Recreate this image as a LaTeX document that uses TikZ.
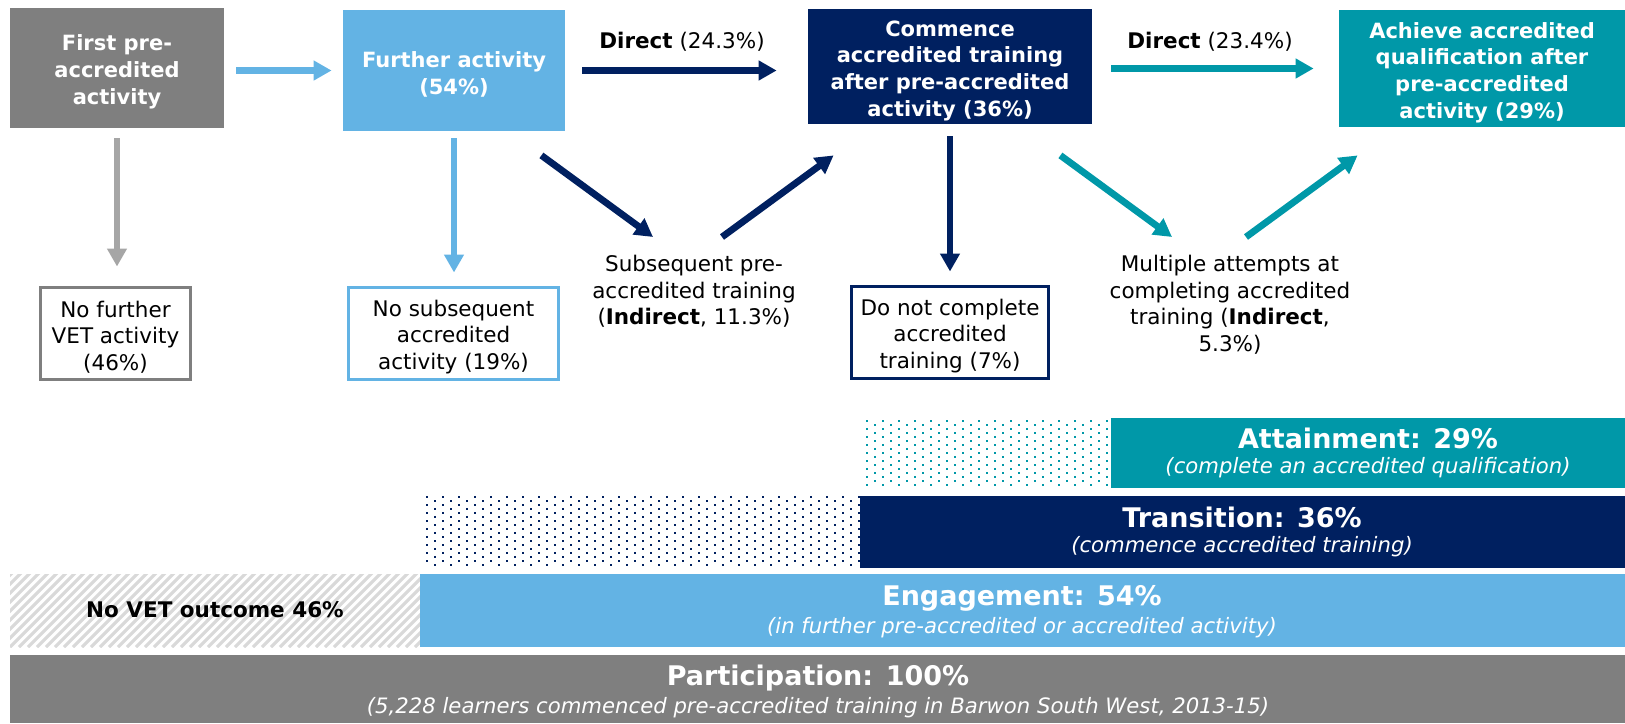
\documentclass[tikz,border=0pt]{standalone}
\usepackage{fontspec}
\setmainfont{DejaVu Sans}
\usetikzlibrary{arrows.meta}
\definecolor{cgray}{RGB}{127,127,127}
\definecolor{cagray}{RGB}{166,166,166}
\definecolor{cblue}{RGB}{99,179,228}
\definecolor{cnavy}{RGB}{0,32,96}
\definecolor{cteal}{RGB}{0,152,168}
\definecolor{chatch}{RGB}{217,217,217}
\newcommand{\mystrut}{\rule{0pt}{12pt}}
\begin{document}
\begin{tikzpicture}[x=0.5pt,y=-0.5pt,
 topbox/.style={fill=#1, text=white, font=\bfseries\fontsize{10.5}{13.4}\selectfont, align=center, inner sep=0pt},
 lowbox/.style={draw=#1, line width=1.5pt, fill=white, font=\fontsize{10.75}{13.25}\selectfont, align=center, inner sep=0pt},
 plain/.style={font=\fontsize{10.75}{13.25}\selectfont, align=center, inner sep=0pt},
 flow/.style={line width=3.4pt, draw=#1, -{Triangle[length=9pt,width=9.5pt]}},
 bar/.style={fill=#1, inner sep=0pt, draw=none},
 bartitle/.style={text=white, font=\bfseries\fontsize{13.5}{16}\selectfont, inner sep=0pt},
 barsub/.style={text=white, font=\itshape\fontsize{10.6}{12}\selectfont, inner sep=0pt},
]
\useasboundingbox (0,0) rectangle (1625,723);

% top boxes
\node[topbox=cgray, minimum width=107pt, minimum height=60pt] (g) at (117,68) {\mystrut First pre-\\accredited\\activity};
\node[topbox=cblue, minimum width=111pt, minimum height=60.5pt] (f) at (454,70.5) {\mystrut Further activity\\(54\%)};
\node[topbox=cnavy, minimum width=142pt, minimum height=57.5pt] (c) at (950,66.5) {\mystrut Commence\\accredited training\\after pre-accredited\\activity (36\%)};
\node[topbox=cteal, minimum width=143pt, minimum height=58.5pt] (a) at (1482,68.5) {\mystrut Achieve accredited\\qualification after\\pre-accredited\\activity (29\%)};

% lower boxes
\node[lowbox=cgray, minimum width=75pt, minimum height=46pt] (nf) at (115.5,333) {\mystrut No further\\VET activity\\(46\%)};
\node[lowbox=cblue, minimum width=105pt, minimum height=46pt] (ns) at (453.5,333) {\mystrut No subsequent\\accredited\\activity (19\%)};
\node[lowbox=cnavy, minimum width=98.5pt, minimum height=46pt] (dn) at (950,332) {\mystrut Do not complete\\accredited\\training (7\%)};

% free texts
\node[plain, anchor=north] (sub) at (694,255) {Subsequent pre-\\accredited training\\(\textbf{Indirect}, 11.3\%)};
\node[plain, anchor=north] (mul) at (1230,255) {Multiple attempts at\\completing accredited\\training (\textbf{Indirect},\\5.3\%)};
\node[plain] (d1) at (682,42) {\textbf{Direct} (24.3\%)};
\node[plain] (d2) at (1210,42) {\textbf{Direct} (23.4\%)};

% arrows
\draw[flow=cblue, shorten <=6pt, shorten >=5.5pt] (g.east |- f.west) -- (f.west);
\draw[flow=cnavy, shorten <=8.5pt, shorten >=15.5pt] (f.east) -- (f.east -| c.west);
\draw[flow=cteal, shorten <=9.5pt, shorten >=12.5pt] (c.east |- a.west) -- (a.west);
\draw[flow=cagray, shorten <=5pt, shorten >=9.5pt] (g.south) -- (g.south |- nf.north);
\draw[flow=cblue, shorten <=3.5pt, shorten >=6.5pt] (f.south) -- (f.south |- ns.north);
\draw[flow=cnavy, shorten <=6pt, shorten >=6.5pt] (c.south) -- (dn.north);
\draw[flow=cnavy] ([shift={(-24,24)}]f.south east) -- ([shift={(-41,-18)}]sub.north);
\draw[flow=cnavy] ([shift={(28,-18)}]sub.north) -- ([shift={(26,31)}]c.south west);
\draw[flow=cteal] ([shift={(-32,31)}]c.south east) -- ([shift={(-58,-18)}]mul.north);
\draw[flow=cteal] ([shift={(16,-18)}]mul.north) -- ([shift={(19,28)}]a.south west);

% dotted areas
\foreach \yy in {420,428,...,484} {\foreach \xx in {866,882,...,1106} {\fill[cteal] (\xx,\yy) rectangle ++(2,2);}}
\foreach \yy in {424,432,...,484} {\foreach \xx in {874,890,...,1106} {\fill[cteal] (\xx,\yy) rectangle ++(2,2);}}
\foreach \yy in {496,504,...,564} {\foreach \xx in {426,442,...,858} {\fill[cnavy] (\xx,\yy) rectangle ++(2,2);}}
\foreach \yy in {500,508,...,564} {\foreach \xx in {434,450,...,858} {\fill[cnavy] (\xx,\yy) rectangle ++(2,2);}}

% hatched area
\begin{scope}
\clip (10,574) rectangle (420,647);
\foreach \xx in {-80,-71,...,420} {\draw[chatch, line width=1.6pt] (\xx,647) -- ++(80,-80);}
\end{scope}

% bars
\node[bar=cteal, minimum width=257pt, minimum height=35pt] (attb) at (1368,453) {};
\node[bar=cnavy, minimum width=382.5pt, minimum height=36pt] (trb) at (1242.5,532) {};
\node[bar=cblue, minimum width=602.5pt, minimum height=36.5pt] (enb) at (1022.5,610.5) {};
\node[bar=cgray, minimum width=807.5pt, minimum height=34pt] (pab) at (817.5,689) {};

\node[bartitle] (att) at (1368,438) {Attainment: 29\%};
\node[barsub] (atts) at (1368,468) {(complete an accredited qualification)};
\node[bartitle] (tr) at (1242,517) {Transition: 36\%};
\node[barsub] (trs) at (1242,547) {(commence accredited training)};
\node[bartitle] (en) at (1022,598) {Engagement: 54\%};
\node[barsub] (ens) at (1022,628) {(in further pre-accredited or accredited activity)};
\node[bartitle] (pa) at (818,678) {Participation: 100\%};
\node[barsub] (pas) at (818,708) {(5,228 learners commenced pre-accredited training in Barwon South West, 2013-15)};
\node[font=\bfseries\fontsize{10.75}{13}\selectfont, inner sep=0pt] (nv) at (215,610) {No VET outcome 46\%};
\end{tikzpicture}
\end{document}
